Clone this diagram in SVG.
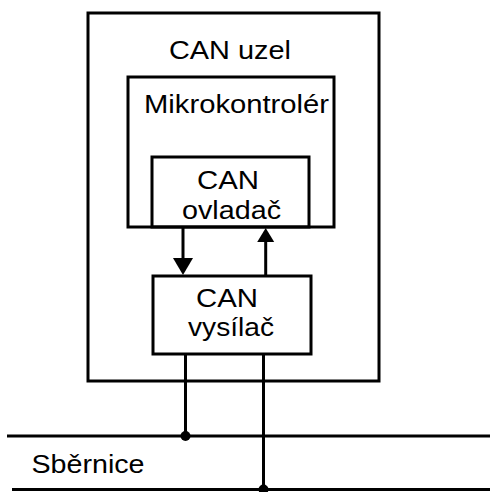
<svg xmlns="http://www.w3.org/2000/svg" width="490" height="492" viewBox="0 0 490 492">
  <style>
    .box { fill: none; stroke: #000; stroke-width: 3; }
    .wire { stroke: #000; stroke-width: 3; fill: none; }
    .head { fill: #000; stroke: none; }
    .lbl { font-family: "Liberation Sans", Arial, sans-serif; font-size: 26px; fill: #000; text-anchor: middle; }
  </style>
  <rect width="490" height="492" fill="#fff"/>

  <g id="can-uzel">
    <rect class="box" x="88" y="13" width="291" height="368"/>
    <text class="lbl" x="230" y="59" textLength="122" lengthAdjust="spacingAndGlyphs">CAN uzel</text>
  </g>

  <g id="mikrokontroler">
    <rect class="box" x="128" y="77" width="206" height="150"/>
    <text class="lbl" x="236.5" y="113" textLength="185" lengthAdjust="spacingAndGlyphs">Mikrokontrolér</text>
  </g>

  <g id="can-ovladac">
    <rect class="box" x="152" y="157" width="157" height="70"/>
    <text class="lbl" x="228" y="189" textLength="62" lengthAdjust="spacingAndGlyphs">CAN</text>
    <text class="lbl" x="231.5" y="219" textLength="99" lengthAdjust="spacingAndGlyphs">ovladač</text>
  </g>

  <g id="can-vysilac">
    <rect class="box" x="153" y="276" width="158" height="78"/>
    <text class="lbl" x="227" y="307" textLength="62" lengthAdjust="spacingAndGlyphs">CAN</text>
    <text class="lbl" x="231" y="336" textLength="86" lengthAdjust="spacingAndGlyphs">vysílač</text>
  </g>

  <g id="sbernice">
    <line class="wire" x1="7" y1="436" x2="490" y2="436"/>
    <line class="wire" x1="12" y1="489.5" x2="490" y2="489.5"/>
    <text class="lbl" x="88" y="473" textLength="113" lengthAdjust="spacingAndGlyphs">Sběrnice</text>
  </g>

  <g id="connectors">
    <!-- TX: controller to transceiver -->
    <line class="wire" x1="183" y1="227" x2="183" y2="260"/>
    <polygon class="head" points="173,258 193,258 183,275"/>
    <!-- RX: transceiver to controller -->
    <line class="wire" x1="265.7" y1="276" x2="265.7" y2="240"/>
    <polygon class="head" points="257.2,242 274.2,242 265.7,228"/>
    <!-- transceiver to bus lines -->
    <line class="wire" x1="185.5" y1="354" x2="185.5" y2="436"/>
    <circle class="head" cx="185.5" cy="436" r="5"/>
    <line class="wire" x1="263.5" y1="354" x2="263.5" y2="489.5"/>
    <circle class="head" cx="263.5" cy="489.5" r="5"/>
  </g>
</svg>
